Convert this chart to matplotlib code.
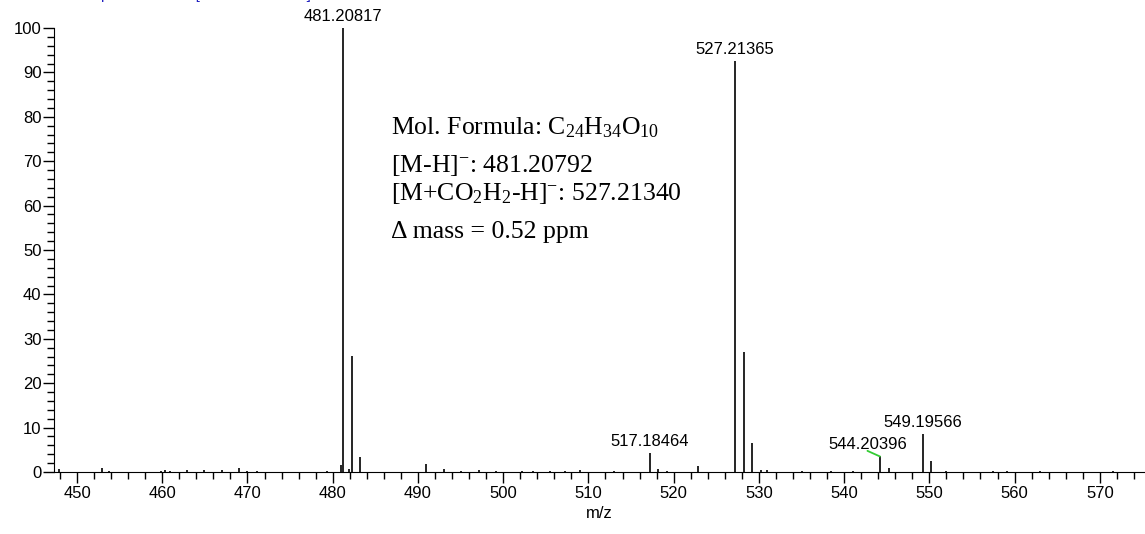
import numpy as np
import matplotlib.pyplot as plt
from matplotlib.ticker import MultipleLocator

plt.rcParams['font.family'] = ['Liberation Sans', 'DejaVu Sans']
plt.rcParams['mathtext.fontset'] = 'custom'
plt.rcParams['mathtext.rm'] = 'Liberation Serif'
plt.rcParams['mathtext.it'] = 'Liberation Serif:italic'

# main labelled peaks
label_mz = [481.20817, 527.21365, 517.18464, 544.20396, 549.19566]
label_int = [100.0, 92.5, 4.2, 3.5, 8.6]

# other peaks (isotopes + noise)
peak_mz = [482.21, 483.21, 481.0, 481.9, 528.22, 529.22, 550.20, 490.9, 452.9,
           447.9, 453.7, 459.9, 460.3, 460.9, 462.9, 464.9, 467.0, 469.0, 470.0,
           471.1, 479.3, 493.1, 495.1, 497.2, 499.2, 502.2, 503.5, 505.5, 507.3,
           509.0, 513.0, 518.2, 519.2, 522.8, 530.2, 531.0, 535.0, 538.5, 541.0,
           545.3, 552.0, 557.5, 559.1, 563.0, 571.6]
peak_int = [26.2, 3.4, 1.6, 0.6, 27.0, 6.5, 2.5, 1.8, 1.0,
            0.7, 0.3, 0.3, 0.4, 0.3, 0.5, 0.5, 0.5, 0.9, 0.2,
            0.2, 0.2, 0.7, 0.2, 0.4, 0.2, 0.2, 0.2, 0.3, 0.3,
            0.5, 0.2, 0.6, 0.3, 1.3, 0.5, 0.4, 0.2, 0.2, 0.2,
            0.8, 0.2, 0.2, 0.3, 0.2, 0.2]

fig = plt.figure(figsize=(11.45, 5.34), dpi=100)
ax = fig.add_axes([54/1145, 62/534, 1 - 54/1145, 444/534])

ax.vlines(label_mz + peak_mz, 0, label_int + peak_int, colors='black', lw=1.2, clip_on=False)

ax.set_xlim(447.3, 575.3)
ax.set_ylim(0, 100)
ax.spines['top'].set_visible(False)
ax.spines['right'].set_visible(False)
ax.xaxis.set_major_locator(MultipleLocator(10))
ax.xaxis.set_minor_locator(MultipleLocator(2))
ax.yaxis.set_major_locator(MultipleLocator(10))
ax.yaxis.set_minor_locator(MultipleLocator(2))
ax.tick_params(which='major', direction='out', length=8, width=1, labelsize=12, pad=2)
ax.tick_params(which='minor', direction='out', length=5, width=1)
ax.tick_params(axis='y', which='major', pad=1)
ax.set_xlabel('m/z', fontsize=12, labelpad=4)

# peak labels
ax.annotate('481.20817', (481.20817, 100), xytext=(0, 3), textcoords='offset points',
            ha='center', va='bottom', fontsize=12, annotation_clip=False)
ax.annotate('527.21365', (527.21365, 92.5), xytext=(0, 3), textcoords='offset points',
            ha='center', va='bottom', fontsize=12)
ax.annotate('517.18464', (517.18464, 4.2), xytext=(0, 3), textcoords='offset points',
            ha='center', va='bottom', fontsize=12)
ax.annotate('549.19566', (549.19566, 8.6), xytext=(0, 3), textcoords='offset points',
            ha='center', va='bottom', fontsize=12)
ax.annotate('544.20396', (544.20396, 3.5), xytext=(-9, 3.5), textcoords='offset points',
            ha='center', va='bottom', fontsize=12,
            arrowprops=dict(arrowstyle='-', color='#33cc33', lw=1.3, shrinkA=0, shrinkB=0,
                            relpos=(0.5, 0.05), patchA=None))

# formula box
tx = 391/1145
serif = dict(fontsize=18.5, family='Liberation Serif', transform=fig.transFigure, va='baseline')
fig.text(tx, 1 - 134/534, 'Mol. Formula: C$_{24}$H$_{34}$O$_{10}$', **serif)
fig.text(tx, 1 - 172/534, '[M-H]$^{-}$: 481.20792', **serif)
fig.text(tx, 1 - 200/534, '[M+CO$_{2}$H$_{2}$-H]$^{-}$: 527.21340', **serif)
fig.text(tx, 1 - 238/534, '\u0394 mass = 0.52 ppm', **serif)

# header, mostly cut off at the top edge
fig.text(0.04, 1 + 1/534, 'FTMS - p ESI Full ms [100.00-1000.00]', color='#2020c0',
         fontsize=11, va='baseline')

fig.savefig('out.png', dpi=100)
